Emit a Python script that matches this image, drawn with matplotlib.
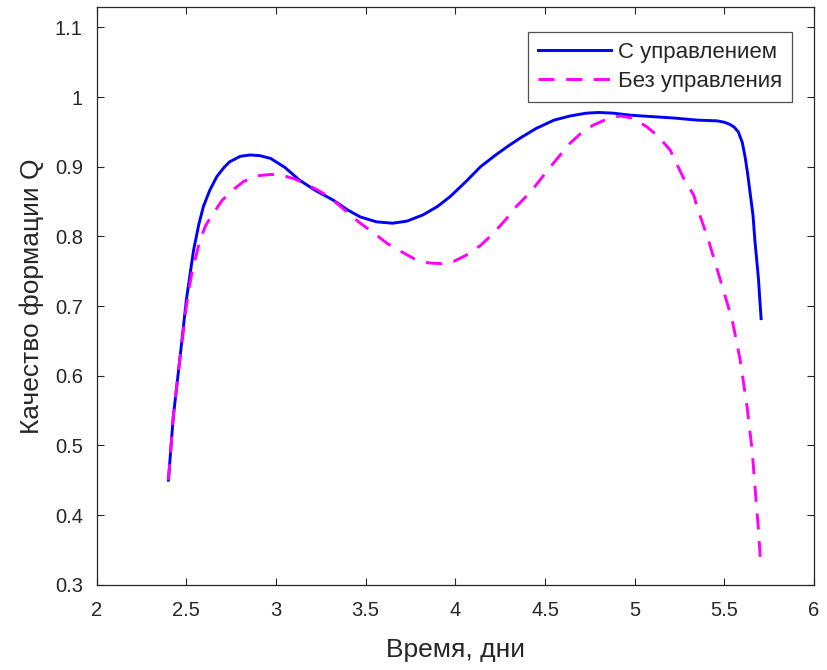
import matplotlib
matplotlib.use("Agg")
import matplotlib.pyplot as plt

plt.rcParams['font.family'] = ['Liberation Sans', 'DejaVu Sans']

# С управлением
x_ctrl = [2.40, 2.427, 2.465, 2.50, 2.54, 2.57, 2.595, 2.63, 2.67, 2.71, 2.74, 2.80, 2.855, 2.91, 2.97,
          3.05, 3.13, 3.22, 3.32, 3.40, 3.47, 3.56, 3.65, 3.73, 3.82, 3.90, 3.97,
          4.06, 4.14, 4.22, 4.29, 4.36, 4.45, 4.55, 4.64, 4.73, 4.80, 4.88, 4.98,
          5.10, 5.22, 5.35, 5.458, 5.50, 5.53, 5.555, 5.578, 5.60, 5.616, 5.63,
          5.644, 5.66, 5.67, 5.69, 5.705]
y_ctrl = [0.45, 0.541, 0.627, 0.709, 0.780, 0.818, 0.843, 0.866, 0.886, 0.899, 0.907, 0.915, 0.917, 0.916, 0.912,
          0.899, 0.881, 0.866, 0.852, 0.838, 0.828, 0.821, 0.819, 0.822, 0.831, 0.843, 0.857,
          0.879, 0.900, 0.916, 0.929, 0.941, 0.955, 0.967, 0.973, 0.977, 0.978, 0.977, 0.974,
          0.972, 0.970, 0.967, 0.966, 0.964, 0.961, 0.957, 0.950, 0.935, 0.914, 0.890,
          0.862, 0.830, 0.795, 0.740, 0.682]

# Без управления
x_free = [2.40, 2.427, 2.465, 2.50, 2.53, 2.576, 2.61, 2.65, 2.70, 2.76, 2.82, 2.89, 2.97,
          3.03, 3.10, 3.16, 3.23, 3.30, 3.36, 3.41, 3.47, 3.55, 3.62, 3.70, 3.77,
          3.85, 3.92, 3.99, 4.06, 4.14, 4.21, 4.28, 4.34, 4.42, 4.53, 4.64, 4.70,
          4.77, 4.85, 4.92, 4.99, 5.07, 5.13, 5.198, 5.27, 5.33, 5.348, 5.41,
          5.477, 5.544, 5.588, 5.627, 5.655, 5.677, 5.69, 5.70]
y_free = [0.45, 0.541, 0.627, 0.700, 0.747, 0.795, 0.817, 0.833, 0.852, 0.867, 0.879, 0.887, 0.889,
          0.888, 0.883, 0.876, 0.867, 0.856, 0.843, 0.832, 0.819, 0.804, 0.790, 0.778, 0.768,
          0.762, 0.761, 0.764, 0.773, 0.787, 0.804, 0.824, 0.843, 0.864, 0.900, 0.934, 0.948,
          0.960, 0.969, 0.973, 0.970, 0.957, 0.944, 0.924, 0.885, 0.859, 0.842, 0.796,
          0.738, 0.680, 0.623, 0.555, 0.493, 0.421, 0.380, 0.340]

label_ctrl = "С управлением"
label_free = "Без управления"
xticks = [2, 2.5, 3, 3.5, 4, 4.5, 5, 5.5, 6]
xtick_labels = ["2", "2.5", "3", "3.5", "4", "4.5", "5", "5.5", "6"]
yticks = [0.3, 0.4, 0.5, 0.6, 0.7, 0.8, 0.9, 1.0, 1.1]
ytick_labels = ["0.3", "0.4", "0.5", "0.6", "0.7", "0.8", "0.9", "1", "1.1"]

fig = plt.figure(figsize=(8.27, 6.70), dpi=100)
ax = fig.add_axes([96.7/827, 1 - 584.7/670, (814 - 96.7)/827, (584.7 - 7.3)/670])

ax.plot(x_ctrl, y_ctrl, color=(0, 0, 1), lw=2.1, label=label_ctrl)
ax.plot(x_free, y_free, color=(1, 0, 1), lw=2.1, dashes=(5.5, 4), label=label_free)

ax.set_xlim(2, 6)
ax.set_ylim(0.3, 1.129)
ax.set_xticks(xticks)
ax.set_xticklabels(xtick_labels)
ax.set_yticks(yticks)
ax.set_yticklabels(ytick_labels)

gray = '#262626'
for s in ax.spines.values():
    s.set_color(gray)
    s.set_linewidth(0.9)
ax.tick_params(direction='in', length=5, width=0.8, color=gray, labelcolor=gray,
               labelsize=14.5, top=True, right=True)
ax.tick_params(axis='x', pad=12)
ax.tick_params(axis='y', pad=10)

ax.set_xlabel("Время, дни", fontsize=19, color=gray, labelpad=13)
ax.set_ylabel("Качество формации Q", fontsize=19, color=gray, labelpad=8)

leg = ax.legend(loc='upper right', bbox_to_anchor=(0.969, 0.957), fontsize=16,
                frameon=True, fancybox=False, handlelength=3.3, borderpad=0.45,
                labelspacing=0.35, handletextpad=0.3, borderaxespad=0.0)
leg.get_frame().set_edgecolor(gray)
leg.get_frame().set_linewidth(0.9)
for t in leg.get_texts():
    t.set_color(gray)

fig.savefig("out.png", dpi=100)
